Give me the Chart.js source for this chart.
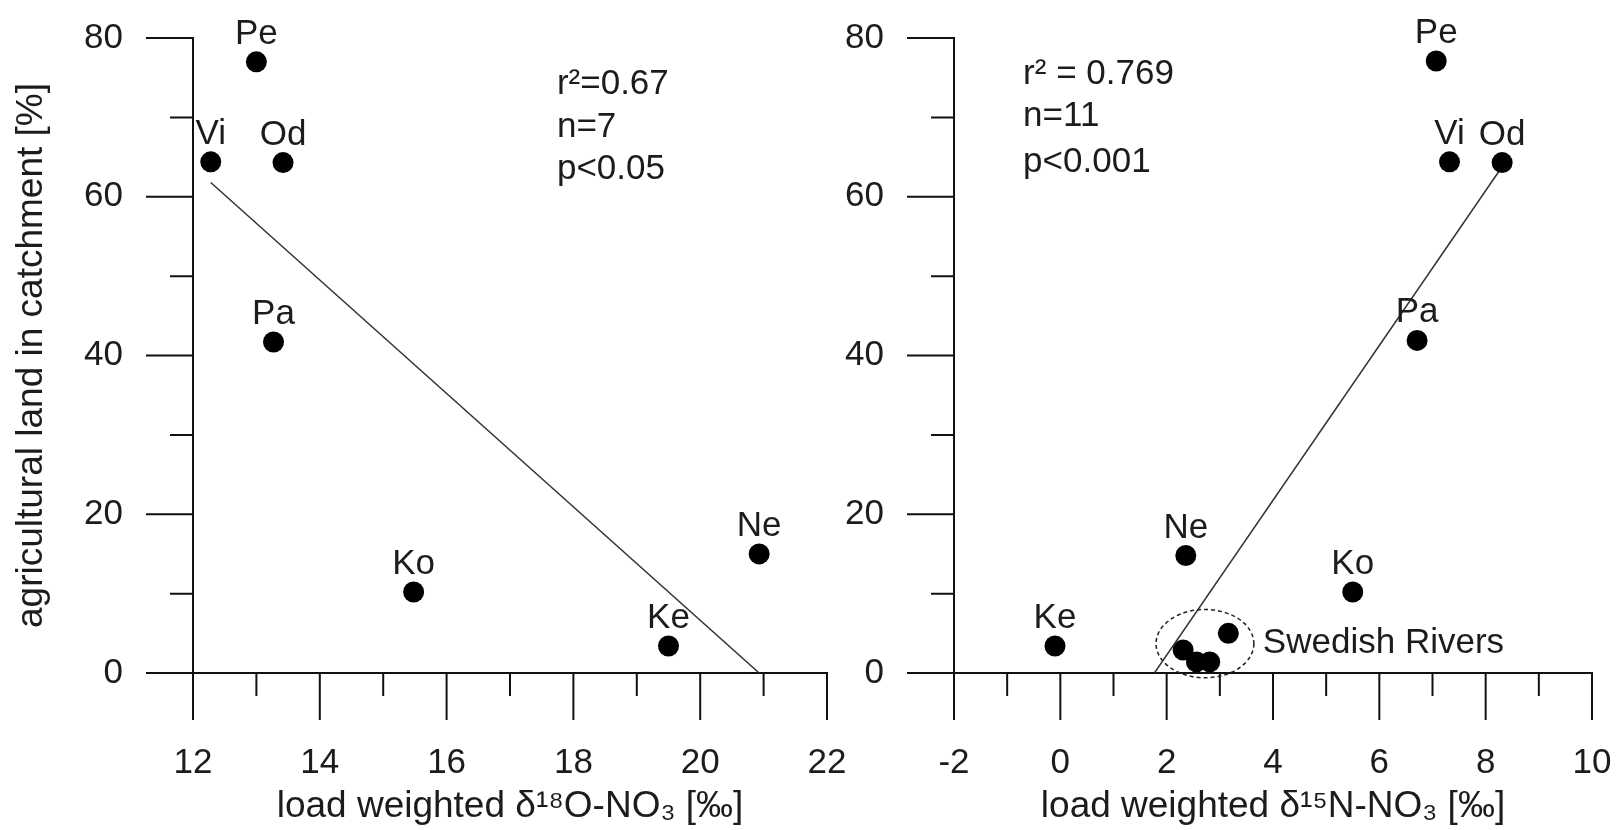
<!DOCTYPE html>
<html>
<head>
<meta charset="utf-8">
<script src="https://cdn.jsdelivr.net/npm/chart.js@4.4.1/dist/chart.umd.min.js"></script>
<style>
  html, body { margin: 0; padding: 0; background: #fff; }
  #wrap { position: relative; width: 1616px; height: 830px; overflow: hidden; }
  #graficoO { position: absolute; left: 0; top: 0; }
  #graficoN { position: absolute; left: 830px; top: 0; }
</style>
</head>
<body>
<div id="wrap">
  <canvas id="graficoO" width="860" height="830"></canvas>
  <canvas id="graficoN" width="786" height="830"></canvas>
</div>
<script>
// left panel: d18O vs agricultural land
const sitiosO = ["Pe", "Vi", "Od", "Pa", "Ko", "Ke", "Ne"];
const d18O = [13.0, 12.28, 13.42, 13.27, 15.48, 19.5, 20.93];
const agricolaO = [77.0, 64.4, 64.3, 41.7, 10.2, 3.4, 15.0];
const ajusteO_x = [12.28, 20.93];
const ajusteO_y = [61.8, 0];
const textoO = ["r²=0.67", "n=7", "p<0.05"];

// right panel: d15N vs agricultural land
const sitiosN = ["Pe", "Vi", "Od", "Pa", "Ko", "Ke", "Ne"];
const d15N = [7.07, 7.32, 8.31, 6.71, 5.5, -0.1, 2.36];
const agricolaN = [77.1, 64.4, 64.3, 41.9, 10.2, 3.4, 14.8];
const suecos_x = [3.16, 2.31, 2.56, 2.81];
const suecos_y = [5.0, 2.9, 1.4, 1.4];
const ajusteN_x = [1.77, 8.27];
const ajusteN_y = [0, 63.4];
const textoN = ["r² = 0.769", "n=11", "p<0.001"];

const FUENTE = "'Liberation Sans', Arial, Helvetica, sans-serif";
const COLOR_TEXTO = "#1c1c1c";
Chart.defaults.font.family = FUENTE;
Chart.defaults.color = COLOR_TEXTO;

const puntos = (xs, ys) => xs.map((x, i) => ({ x, y: ys[i] }));

// ticks, point labels and the r2 block
const crearPlugin = (cfg) => ({
  id: "extras_" + cfg.id,
  afterDraw(chart) {
    const { ctx } = chart;
    const xs = chart.scales.x;
    const ys = chart.scales.y;
    ctx.save();
    ctx.strokeStyle = "#111";
    ctx.lineWidth = 2;
    ctx.beginPath();
    xs.ticks.forEach((t) => {
      const px = xs.getPixelForValue(t.value);
      const largo = t.value % 2 === 0 ? 47 : 23;
      ctx.moveTo(px, xs.top);
      ctx.lineTo(px, xs.top + largo);
    });
    ys.ticks.forEach((t) => {
      const py = ys.getPixelForValue(t.value);
      const largo = t.value % 20 === 0 ? 47 : 23;
      ctx.moveTo(ys.right - largo, py);
      ctx.lineTo(ys.right, py);
    });
    ctx.stroke();

    ctx.fillStyle = COLOR_TEXTO;
    ctx.font = "35px " + FUENTE;
    ctx.textAlign = "center";
    ctx.textBaseline = "alphabetic";
    cfg.sitios.forEach((s, i) => {
      const px = xs.getPixelForValue(cfg.xs[i]);
      const py = ys.getPixelForValue(cfg.ys[i]);
      ctx.fillText(s, px, py - 18);
    });

    ctx.textAlign = "left";
    ctx.textBaseline = "middle";
    cfg.texto.forEach((linea, i) => {
      ctx.fillText(linea, xs.getPixelForValue(cfg.textoX), ys.getPixelForValue(cfg.textoY[i]));
    });

    if (cfg.elipse) {
      const e = cfg.elipse;
      const cx = xs.getPixelForValue(e.x);
      const cy = ys.getPixelForValue(e.y);
      const rx = Math.abs(xs.getPixelForValue(e.x + e.rx) - cx);
      const ry = Math.abs(ys.getPixelForValue(e.y + e.ry) - cy);
      ctx.setLineDash([4, 3]);
      ctx.lineWidth = 1.5;
      ctx.strokeStyle = "#222";
      ctx.beginPath();
      ctx.ellipse(cx, cy, rx, ry, 0, 0, Math.PI * 2);
      ctx.stroke();
      ctx.setLineDash([]);
      ctx.fillText(e.texto, cx + rx + 9, cy);
    }
    ctx.restore();
  },
});

const crearGrafico = (canvasId, cfg) => {
  const canvas = document.getElementById(canvasId);
  const datasets = [
    {
      type: "scatter",
      data: puntos(cfg.xs, cfg.ys),
      backgroundColor: "#000",
      borderWidth: 0,
      pointRadius: 10.5,
    },
    {
      type: "scatter",
      data: puntos(cfg.ajusteX, cfg.ajusteY),
      showLine: true,
      borderColor: "#333",
      borderWidth: 1.5,
      pointRadius: 0,
    },
  ];
  if (cfg.extraX) {
    datasets.push({
      type: "scatter",
      data: puntos(cfg.extraX, cfg.extraY),
      backgroundColor: "#000",
      borderWidth: 0,
      pointRadius: 10.5,
    });
  }

  return new Chart(canvas, {
    type: "scatter",
    data: { datasets },
    options: {
      responsive: false,
      animation: false,
      layout: { padding: { top: 38, right: cfg.padDer, left: 0, bottom: 0 } },
      plugins: { legend: { display: false }, tooltip: { enabled: false } },
      scales: {
        x: {
          type: "linear",
          min: cfg.xMin,
          max: cfg.xMax,
          afterFit: (s) => { s.height = 157; },
          // tick marks are drawn by the plugin, the invisible ones only push the labels down
          grid: { drawOnChartArea: false, drawTicks: true, tickLength: 69, tickColor: "rgba(0,0,0,0)" },
          border: { color: "#111", width: 2 },
          ticks: {
            stepSize: 1,
            autoSkip: false,
            maxRotation: 0,
            padding: 0,
            font: { size: 35 },
            callback: (v) => (v % 2 === 0 ? v : ""),
          },
          title: {
            display: true,
            text: cfg.tituloX,
            font: { size: 37 },
            padding: { top: 0, bottom: 1 },
          },
        },
        y: {
          type: "linear",
          min: 0,
          max: 80,
          afterFit: (s) => { s.width = cfg.anchoY; },
          grid: { drawOnChartArea: false, drawTicks: true, tickLength: 70, tickColor: "rgba(0,0,0,0)" },
          border: { color: "#111", width: 2 },
          ticks: {
            stepSize: 10,
            autoSkip: false,
            padding: 0,
            font: { size: 35 },
            callback: (v) => (v % 20 === 0 ? v : ""),
          },
          title: {
            display: !!cfg.tituloY,
            text: cfg.tituloY || "",
            font: { size: 37 },
            padding: { top: 10, bottom: 0 },
          },
        },
      },
    },
    plugins: [crearPlugin(cfg)],
  });
};

crearGrafico("graficoO", {
  id: "O",
  sitios: sitiosO,
  xs: d18O,
  ys: agricolaO,
  ajusteX: ajusteO_x,
  ajusteY: ajusteO_y,
  xMin: 12,
  xMax: 22,
  padDer: 33,
  anchoY: 193,
  tituloX: "load weighted δ¹⁸O-NO₃ [‰]",
  tituloY: "agricultural land in catchment [%]",
  texto: textoO,
  textoX: 17.74,
  textoY: [74.1, 68.7, 63.4],
});

crearGrafico("graficoN", {
  id: "N",
  sitios: sitiosN,
  xs: d15N,
  ys: agricolaN,
  ajusteX: ajusteN_x,
  ajusteY: ajusteN_y,
  extraX: suecos_x,
  extraY: suecos_y,
  xMin: -2,
  xMax: 10,
  padDer: 24,
  anchoY: 124,
  tituloX: "load weighted δ¹⁵N-NO₃ [‰]",
  texto: textoN,
  textoX: -0.7,
  textoY: [75.4, 70.1, 64.3],
  elipse: { x: 2.72, y: 3.7, rx: 0.92, ry: 4.3, texto: "Swedish Rivers" },
});
</script>
</body>
</html>
